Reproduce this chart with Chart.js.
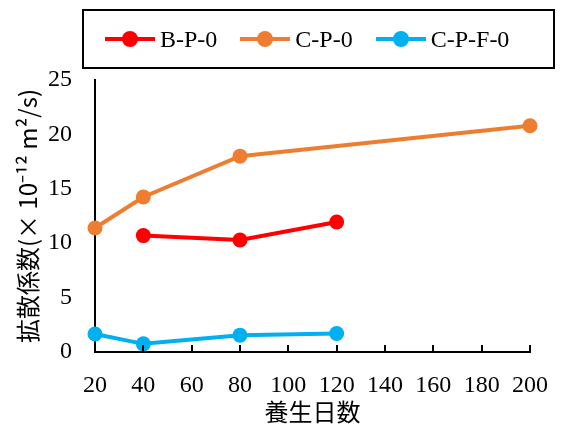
<!DOCTYPE html>
<html>
<head>
<meta charset="utf-8">
<script src="https://cdn.jsdelivr.net/npm/chart.js@4.4.1/dist/chart.umd.min.js"></script>
<style>
    html, body { margin: 0; padding: 0; background: #ffffff; }
    #wrap { position: relative; width: 561px; height: 429px; }
    #legend {
        position: absolute; left: 82px; top: 9px; width: 448px; height: 56px; padding-left: 21px;
        border: 2px solid #000; display: flex; align-items: center; justify-content: flex-start;
        font-family: 'Liberation Serif', serif; font-size: 24px; color: #000;
    }
    .item { display: flex; align-items: center; margin-right: 23px; }
    .sample { position: relative; width: 50px; height: 16px; margin-right: 5px; }
    .sample .ln { position: absolute; left: 0; right: 0; top: 6px; height: 4px; }
    .sample .dot { position: absolute; left: 17px; top: 0; width: 16px; height: 16px; border-radius: 50%; }
</style>
</head>
<body>
<div id="wrap">
    <canvas id="chart" width="561" height="429"></canvas>
    <div id="legend"></div>
</div>
<script>
const seriesNames = ['B-P-0', 'C-P-0', 'C-P-F-0'];
const seriesColors = ['#ff0000', '#ed7d31', '#00b0f0'];

const bpDays = [40, 80, 120];
const bpValues = [10.7, 10.3, 11.95];

const cpDays = [20, 40, 80, 200];
const cpValues = [11.4, 14.25, 18.0, 20.8];

const cpfDays = [20, 40, 80, 120];
const cpfValues = [1.65, 0.75, 1.55, 1.7];

const xTicks = [20, 40, 60, 80, 100, 120, 140, 160, 180, 200];
const yTicks = [0, 5, 10, 15, 20, 25];

const xTitle = '養生日数';
const yTitle = '拡散係数(× 10⁻¹² m²/s)';

function toPoints(xs, ys) {
    return xs.map((x, i) => ({ x: x, y: ys[i] }));
}

function makeSet(i, xs, ys) {
    return {
        label: seriesNames[i],
        data: toPoints(xs, ys),
        borderColor: seriesColors[i],
        backgroundColor: seriesColors[i],
        borderWidth: 4,
        pointRadius: 7.5,
        pointHoverRadius: 7.5,
        pointBorderWidth: 0,
        tension: 0,
        clip: false
    };
}

// html legend
const legendEl = document.getElementById('legend');
seriesNames.forEach((name, i) => {
    const item = document.createElement('div');
    item.className = 'item';
    item.innerHTML = '<div class="sample"><div class="ln" style="background:' + seriesColors[i] +
        '"></div><div class="dot" style="background:' + seriesColors[i] + '"></div></div><span>' + name + '</span>';
    legendEl.appendChild(item);
});

// ticks pointing up into the plot
const innerTicks = {
    id: 'innerTicks',
    afterDraw(chart) {
        const ctx = chart.ctx;
        const x = chart.scales.x;
        ctx.save();
        ctx.strokeStyle = '#000';
        ctx.lineWidth = 2;
        ctx.beginPath();
        x.ticks.forEach((t, i) => {
            const px = Math.round(x.getPixelForTick(i));
            ctx.moveTo(px, x.top);
            ctx.lineTo(px, x.top - 7);
        });
        ctx.stroke();
        ctx.restore();
    }
};

const serif = "'Liberation Serif', 'Noto Sans CJK JP', serif";
const cjk = "'Noto Sans CJK JP', 'Liberation Serif', serif";

new Chart(document.getElementById('chart'), {
    type: 'line',
    data: {
        datasets: [
            makeSet(0, bpDays, bpValues),
            makeSet(1, cpDays, cpValues),
            makeSet(2, cpfDays, cpfValues)
        ]
    },
    options: {
        responsive: false,
        animation: false,
        events: [],
        layout: { padding: { top: 80, right: 31, bottom: 0, left: 0 } },
        plugins: { legend: { display: false }, tooltip: { enabled: false } },
        scales: {
            x: {
                type: 'linear',
                min: 20,
                max: 200,
                afterBuildTicks: (s) => { s.ticks = xTicks.map(v => ({ value: v })); },
                afterFit: (s) => { s.height = 77; s.paddingLeft = 0; s.paddingRight = 0; },
                grid: { display: false, drawTicks: false },
                border: { display: true, color: '#000', width: 2 },
                ticks: { color: '#000', font: { family: serif, size: 24 }, padding: 19, maxRotation: 0, autoSkip: false },
                title: { display: true, text: xTitle, color: '#000', font: { family: cjk, size: 24 }, padding: { top: 0, bottom: 3 } }
            },
            y: {
                min: 0,
                max: 25,
                afterBuildTicks: (s) => { s.ticks = yTicks.map(v => ({ value: v })); },
                afterFit: (s) => { s.width = 95; s.paddingTop = 0; s.paddingBottom = 0; },
                grid: { display: false, drawTicks: false },
                border: { display: true, color: '#000', width: 2 },
                ticks: { color: '#000', font: { family: serif, size: 24 }, padding: 23 },
                title: { display: true, text: yTitle, color: '#000', font: { family: cjk, size: 24 }, padding: { top: 13, bottom: 0 } }
            }
        }
    },
    plugins: [innerTicks]
});
</script>
</body>
</html>
